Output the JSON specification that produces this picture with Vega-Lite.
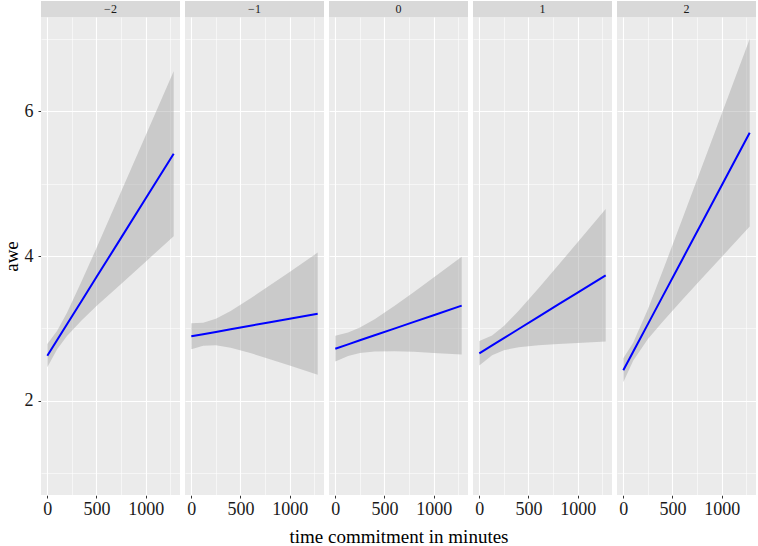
{
  "$schema": "https://vega.github.io/schema/vega-lite/v6.json",
  "padding": {"left": 2, "top": 0, "right": 2, "bottom": 0},
  "config": {
    "font": "Liberation Serif",
    "view": {"fill": "#EBEBEB", "stroke": null},
    "facet": {"spacing": 5}
  },
  "data": {
    "values": [
      {"g": "−2", "x": 0, "fit": 2.625, "lo": 2.465, "hi": 2.785},
      {"g": "−2", "x": 100, "fit": 2.842, "lo": 2.714, "hi": 2.970},
      {"g": "−2", "x": 200, "fit": 3.058, "lo": 2.898, "hi": 3.218},
      {"g": "−2", "x": 350, "fit": 3.383, "lo": 3.112, "hi": 3.654},
      {"g": "−2", "x": 500, "fit": 3.709, "lo": 3.309, "hi": 4.109},
      {"g": "−2", "x": 750, "fit": 4.250, "lo": 3.615, "hi": 4.885},
      {"g": "−2", "x": 1000, "fit": 4.792, "lo": 3.922, "hi": 5.662},
      {"g": "−2", "x": 1285, "fit": 5.410, "lo": 4.273, "hi": 6.547},
      {"g": "−1", "x": 0, "fit": 2.892, "lo": 2.712, "hi": 3.072},
      {"g": "−1", "x": 120, "fit": 2.921, "lo": 2.762, "hi": 3.080},
      {"g": "−1", "x": 250, "fit": 2.953, "lo": 2.770, "hi": 3.136},
      {"g": "−1", "x": 400, "fit": 2.989, "lo": 2.735, "hi": 3.243},
      {"g": "−1", "x": 600, "fit": 3.038, "lo": 2.662, "hi": 3.414},
      {"g": "−1", "x": 800, "fit": 3.086, "lo": 2.577, "hi": 3.595},
      {"g": "−1", "x": 1000, "fit": 3.135, "lo": 2.490, "hi": 3.780},
      {"g": "−1", "x": 1285, "fit": 3.204, "lo": 2.361, "hi": 4.047},
      {"g": "0", "x": 0, "fit": 2.721, "lo": 2.543, "hi": 2.899},
      {"g": "0", "x": 130, "fit": 2.781, "lo": 2.619, "hi": 2.943},
      {"g": "0", "x": 250, "fit": 2.837, "lo": 2.661, "hi": 3.013},
      {"g": "0", "x": 400, "fit": 2.906, "lo": 2.683, "hi": 3.129},
      {"g": "0", "x": 600, "fit": 2.998, "lo": 2.686, "hi": 3.310},
      {"g": "0", "x": 800, "fit": 3.091, "lo": 2.678, "hi": 3.504},
      {"g": "0", "x": 1000, "fit": 3.183, "lo": 2.663, "hi": 3.703},
      {"g": "0", "x": 1285, "fit": 3.315, "lo": 2.640, "hi": 3.990},
      {"g": "1", "x": 0, "fit": 2.658, "lo": 2.488, "hi": 2.828},
      {"g": "1", "x": 130, "fit": 2.767, "lo": 2.631, "hi": 2.903},
      {"g": "1", "x": 250, "fit": 2.867, "lo": 2.701, "hi": 3.033},
      {"g": "1", "x": 400, "fit": 2.993, "lo": 2.742, "hi": 3.244},
      {"g": "1", "x": 600, "fit": 3.160, "lo": 2.768, "hi": 3.552},
      {"g": "1", "x": 800, "fit": 3.328, "lo": 2.787, "hi": 3.869},
      {"g": "1", "x": 1000, "fit": 3.495, "lo": 2.801, "hi": 4.189},
      {"g": "1", "x": 1285, "fit": 3.734, "lo": 2.821, "hi": 4.647},
      {"g": "2", "x": 0, "fit": 2.423, "lo": 2.258, "hi": 2.588},
      {"g": "2", "x": 100, "fit": 2.678, "lo": 2.554, "hi": 2.802},
      {"g": "2", "x": 250, "fit": 3.060, "lo": 2.855, "hi": 3.265},
      {"g": "2", "x": 400, "fit": 3.443, "lo": 3.094, "hi": 3.792},
      {"g": "2", "x": 600, "fit": 3.953, "lo": 3.396, "hi": 4.510},
      {"g": "2", "x": 800, "fit": 4.463, "lo": 3.692, "hi": 5.234},
      {"g": "2", "x": 1000, "fit": 4.973, "lo": 3.987, "hi": 5.959},
      {"g": "2", "x": 1285, "fit": 5.700, "lo": 4.406, "hi": 6.994}
    ]
  },
  "facet": {
    "column": {
      "field": "g",
      "type": "nominal",
      "sort": ["−2", "−1", "0", "1", "2"],
      "header": {
        "labels": false,
        "title": "time commitment in minutes",
        "titleOrient": "bottom",
        "titleFont": "Liberation Serif",
        "titleFontSize": 19,
        "titleFontWeight": "normal",
        "titleColor": "#000000",
        "titlePadding": 0
      }
    }
  },
  "spacing": 5,
  "resolve": {"scale": {"x": "shared", "y": "shared"}},
  "spec": {
    "width": 139,
    "height": 478,
    "encoding": {
      "x": {
        "field": "x",
        "type": "quantitative",
        "scale": {"domain": [-64.25, 1349.25], "nice": false, "zero": false},
        "axis": {
          "values": [0, 250, 500, 750, 1000, 1250],
          "format": "d",
          "labelExpr": "datum.value % 500 === 0 ? datum.label : ''",
          "grid": true,
          "gridColor": "#FFFFFF",
          "gridOpacity": 1,
          "gridWidth": {"condition": {"test": "datum.value % 500 === 0", "value": 1.1}, "value": 0.55},
          "tickOpacity": {"condition": {"test": "datum.value % 500 === 0", "value": 1}, "value": 0},
          "tickColor": "#333333",
          "tickSize": 3,
          "domain": false,
          "labelFontSize": 18,
          "labelColor": "#1A1A1A",
          "labelPadding": 2,
          "labelFlush": false,
          "labelOverlap": false,
          "title": null
        }
      },
      "y": {
        "type": "quantitative",
        "scale": {"domain": [0.703, 7.297], "nice": false, "zero": false},
        "axis": {
          "values": [1, 2, 3, 4, 5, 6, 7],
          "labelExpr": "datum.value % 2 === 0 ? datum.label : ''",
          "grid": true,
          "gridColor": "#FFFFFF",
          "gridOpacity": 1,
          "gridWidth": {"condition": {"test": "datum.value % 2 === 0", "value": 1.1}, "value": 0.55},
          "tickOpacity": {"condition": {"test": "datum.value % 2 === 0", "value": 1}, "value": 0},
          "tickColor": "#333333",
          "tickSize": 3,
          "domain": false,
          "labelFontSize": 18,
          "labelColor": "#1A1A1A",
          "labelPadding": 5,
          "title": "awe",
          "titleFontSize": 19,
          "titleFontWeight": "normal",
          "titleColor": "#000000",
          "titlePadding": 3
        }
      }
    },
    "layer": [
      {
        "transform": [{"filter": "datum.x === 0"}],
        "mark": {"type": "rect", "color": "#D9D9D9"},
        "encoding": {
          "x": {"datum": -64.25, "type": "quantitative"},
          "x2": {"datum": 1349.25},
          "y": {"datum": 7.297, "type": "quantitative"},
          "y2": {"datum": 7.518}
        }
      },
      {
        "transform": [{"filter": "datum.x === 0"}],
        "mark": {"type": "text", "fontSize": 12, "color": "#1A1A1A", "baseline": "middle", "align": "center"},
        "encoding": {
          "x": {"datum": 642.5, "type": "quantitative"},
          "y": {"datum": 7.41, "type": "quantitative"},
          "text": {"field": "g", "type": "nominal"}
        }
      },
      {
        "mark": {"type": "area", "color": "#999999", "opacity": 0.4},
        "encoding": {
          "y": {"field": "lo"},
          "y2": {"field": "hi"}
        }
      },
      {
        "mark": {"type": "line", "color": "#0000FF", "strokeWidth": 2},
        "encoding": {
          "y": {"field": "fit"}
        }
      }
    ]
  }
}
